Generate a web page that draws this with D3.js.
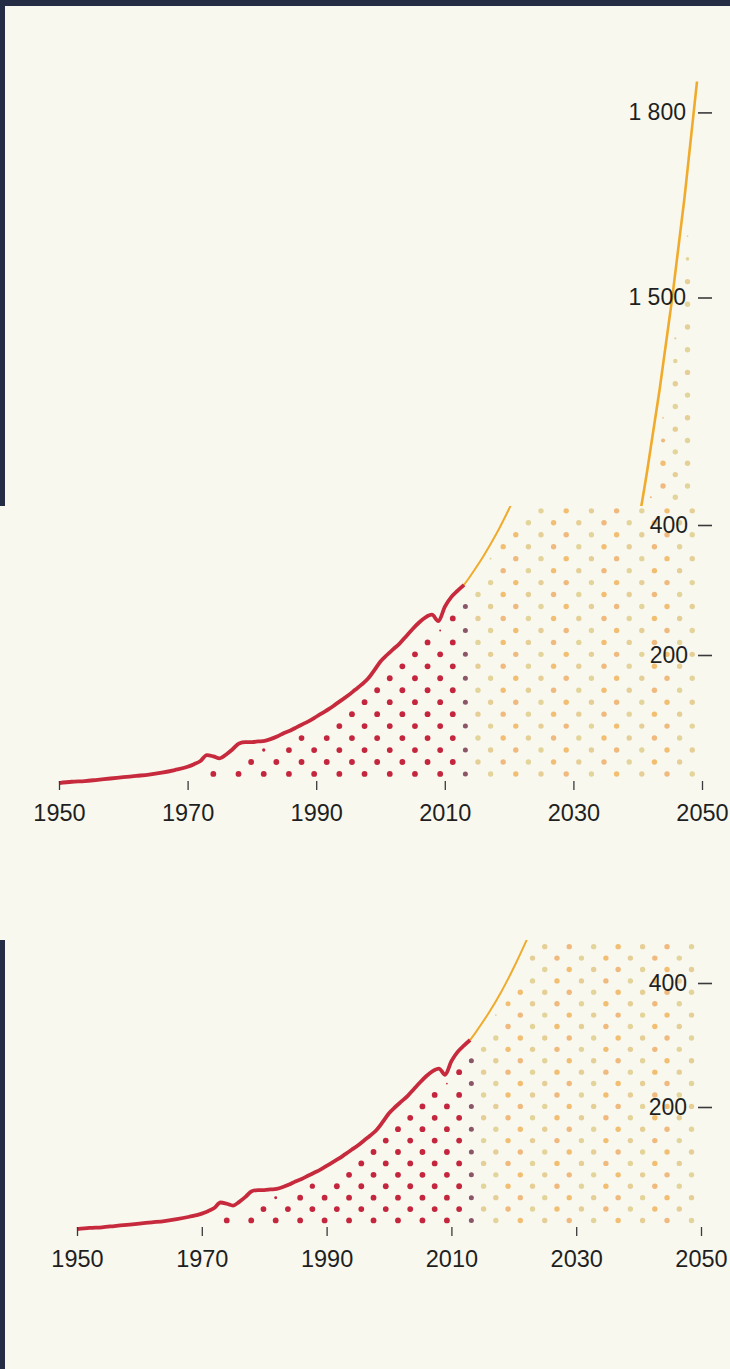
<!DOCTYPE html>
<html>
<head>
<meta charset="utf-8">
<script src="https://cdn.jsdelivr.net/npm/d3@7"></script>
<style>
  body { margin: 0; background: #242d44; }
  svg { display: block; }
  text { font-family: "Liberation Sans", Arial, sans-serif; }
</style>
</head>
<body>
<svg id="chart" width="730" height="1369"></svg>
<script>
const histYears = [1950,1952,1954,1956,1958,1960,1962,1964,1966,1968,1970,1971,1972,1973,1974,1975,1976,1977,1978,1979,1980,1981,1982,1983,1984,1985,1986,1987,1988,1989,1990,1991,1992,1993,1994,1995,1996,1997,1998,1999,2000,2001,2002,2003,2004,2005,2006,2007,2008,2009,2010,2011,2012,2013];
const histValues = [3,5,6,8,10,12,14,16,19,23,28,32,37,46,44,41,47,55,64,66,66,67,68,71,75,80,84,89,94,99,105,111,117,124,131,138,146,154,163,176,190,200,209,218,229,240,250,258,262,252,274,289,299,308];

// projection
const projYears = [2013,2014,2016,2018,2020,2022,2024,2026,2028,2030,2032,2034,2036,2038,2040,2042,2044,2046,2048,2050];
const projValues = [308,322,352,386,425,468,514,565,620,680,746,818,900,995,1100,1218,1350,1497,1662,1850];

const xTicks = [1950, 1970, 1990, 2010, 2030, 2050];
const yTicks = [200, 400, 1500, 1800];

const W = 730, H = 1369;
const svg = d3.select("#chart");
svg.append("rect").attr("width", W).attr("height", H).attr("fill", "#242d44");

const fmt = d3.formatLocale({ decimal: ",", thousands: " ", grouping: [3], currency: ["", ""] }).format(",d");

// the picture is three slices of the same chart at different scroll/zoom
const frames = [
  { id: "a", clip: [5, 6, 725, 500], x0: 73, x1: 697, y0: 1223, k: 0.617, lw: 2.6, labelEnd: 686 },
  { id: "b", clip: [0, 506, 730, 434], x0: 59, x1: 702, y0: 785, k: 0.65, lw: 2, labelEnd: 688 },
  { id: "c", clip: [5, 940, 725, 429], x0: 77, x1: 701, y0: 1231, k: 0.62, lw: 2, labelEnd: 687 }
];

const allYears = histYears.concat(projYears.slice(1));
const allValues = histValues.concat(projValues.slice(1));
function valueAt(yr) {
  const i = d3.bisectLeft(allYears, yr);
  if (i <= 0) return allValues[0];
  if (i >= allYears.length) return allValues[allValues.length - 1];
  const t = (yr - allYears[i - 1]) / (allYears[i] - allYears[i - 1]);
  return allValues[i - 1] + t * (allValues[i] - allValues[i - 1]);
}

// halftone grid settings
const dotYearStep = 3.92, dotRowStep = 18.4, dotBase = 17, dotStart = 1974;
const yellows = ["#f2bf72", "#e3d49a", "#f0b97e", "#e6cf96"];

function drawFrame(f) {
  const clipId = "clip-" + f.id;
  const top = f.clip[1], bottom = f.clip[1] + f.clip[3];
  svg.append("clipPath").attr("id", clipId).append("rect")
    .attr("x", f.clip[0]).attr("y", top)
    .attr("width", f.clip[2]).attr("height", f.clip[3]);
  const g = svg.append("g").attr("clip-path", `url(#${clipId})`);
  g.append("rect")
    .attr("x", f.clip[0]).attr("y", top)
    .attr("width", f.clip[2]).attr("height", f.clip[3])
    .attr("fill", "#f8f8ef");

  const x = d3.scaleLinear().domain([1950, 2050]).range([f.x0, f.x1]);
  const y = d3.scaleLinear().domain([0, 1000]).range([f.y0, f.y0 - 1000 * f.k]);
  const pxPerYear = (f.x1 - f.x0) / 100;

  // dots under the curve
  const dots = [];
  for (let r = 0; dotBase + r * dotRowStep < 1900; r++) {
    const v = dotBase + r * dotRowStep;
    for (let yr = dotStart + (r % 2) * dotYearStep / 2, c = 0; yr <= 2049; yr += dotYearStep, c++) {
      const mPx = (valueAt(yr) - v) * f.k;
      const s = (valueAt(yr + 0.5) - valueAt(yr - 0.5)) * f.k / pxPerYear;
      const d = mPx / Math.sqrt(1 + s * s);
      if (d < 7) continue;
      let color, full;
      if (yr < 2012.8) { color = "#c4263d"; full = 2.9; }
      else if (yr < 2013.7) { color = "#8a5668"; full = 2.5; }
      else { color = yellows[(c * 3 + r) % 4]; full = 2.7; }
      dots.push({ yr, v, color, r: full * Math.min(1, (d - 5) / 7) });
    }
  }
  g.append("g").selectAll("circle").data(dots).join("circle")
    .attr("cx", d => x(d.yr))
    .attr("cy", d => y(d.v))
    .attr("r", d => d.r)
    .attr("fill", d => d.color);

  // lines
  const line = d3.line().x(d => x(d[0])).y(d => y(d[1])).curve(d3.curveMonotoneX);
  g.append("path")
    .datum(d3.zip(projYears, projValues))
    .attr("d", line)
    .attr("fill", "none")
    .attr("stroke", "#f0ab2c")
    .attr("stroke-width", f.lw);
  g.append("path")
    .datum(d3.zip(histYears, histValues))
    .attr("d", line)
    .attr("fill", "none")
    .attr("stroke", "#c62a3c")
    .attr("stroke-width", 3.8)
    .attr("stroke-linejoin", "round");

  // x axis, only where this slice shows it
  if (f.y0 < bottom - 30) {
    const xa = g.append("g")
      .attr("transform", `translate(0,${f.y0 - 4})`)
      .call(d3.axisBottom(x).tickValues(xTicks).tickFormat(d3.format("d")).tickSize(9).tickPadding(14));
    xa.select(".domain").remove();
    xa.selectAll(".tick line").attr("stroke", "#3a3a3a").attr("stroke-width", 1.3);
    xa.selectAll(".tick text").attr("fill", "#1f1f1f").attr("font-size", 23.5)
      .attr("font-family", "Liberation Sans, Arial, sans-serif");
  }

  // y axis on the right, ticks inside the slice only
  const shown = yTicks.filter(t => y(t) > top + 10 && y(t) < bottom - 10);
  const ya = g.append("g")
    .attr("transform", "translate(712,0)")
    .call(d3.axisLeft(y).tickValues(shown).tickFormat(fmt).tickSize(14).tickPadding(712 - 14 - f.labelEnd));
  ya.select(".domain").remove();
  ya.selectAll(".tick line").attr("stroke", "#3a3a3a").attr("stroke-width", 1.6);
  ya.selectAll(".tick text").attr("fill", "#1f1f1f").attr("font-size", 23)
    .attr("font-family", "Liberation Sans, Arial, sans-serif");
}

frames.forEach(drawFrame);
</script>
</body>
</html>
